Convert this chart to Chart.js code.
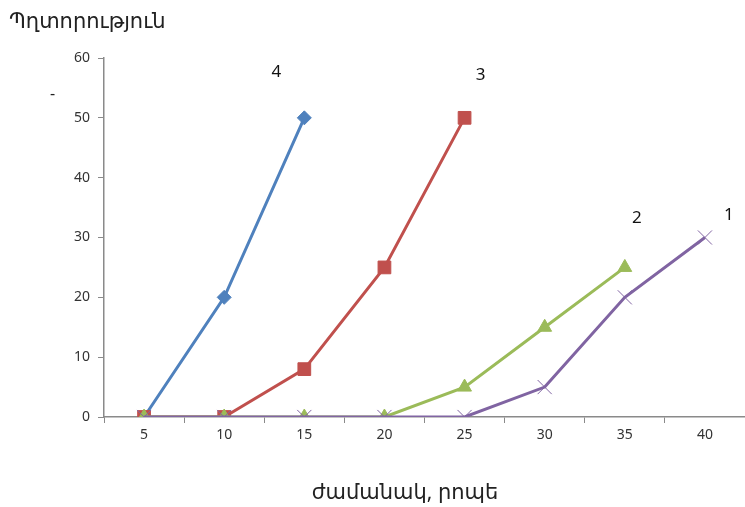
<!DOCTYPE html>
<html>
<head>
<meta charset="utf-8">
<script src="https://cdn.jsdelivr.net/npm/chart.js@4.4.0/dist/chart.umd.min.js"></script>
<style>
  body { margin: 0; background: #fff; }
  #wrap { width: 745px; height: 507px; }
</style>
</head>
<body>
<div id="wrap"><canvas id="myChart" width="745" height="507"></canvas></div>
<script>
// data
const minutes = ['5', '10', '15', '20', '25', '30', '35', '40'];
const curve4 = [0, 20, 50, null, null, null, null, null];
const curve3 = [0, 0, 8, 25, 50, null, null, null];
const curve2 = [0, 0, 0, 0, 5, 15, 25, null];
const curve1 = [0, 0, 0, 0, 0, 5, 20, 30];
const yTicks = [0, 10, 20, 30, 40, 50, 60];

// curve numbers placed next to line ends (category index, value)
const curveNames = ['4', '3', '2', '1'];
const nameIdx = [1.65, 4.2, 6.15, 7.3];
const nameVal = [57.7, 57.2, 33.3, 33.8];

const yTitle = 'Պղտորություն';
const xTitle = 'ժամանակ, րոպե';

const font = "'Noto Sans', 'DejaVu Sans', sans-serif";

// draws the curve numbers and the axis titles
const textPlugin = {
    id: 'texts',
    afterDraw(chart) {
        const c = chart.ctx;
        const xs = chart.scales.x;
        const ys = chart.scales.y;
        c.save();
        c.fillStyle = '#111';
        c.font = '17px ' + font;
        c.textAlign = 'center';
        c.textBaseline = 'middle';
        for (let i = 0; i < curveNames.length; i++) {
            const x0 = xs.getPixelForValue(Math.floor(nameIdx[i]));
            const x1 = xs.getPixelForValue(Math.floor(nameIdx[i]) + 1);
            const x = x0 + (x1 - x0) * (nameIdx[i] % 1);
            c.fillText(curveNames[i], x, ys.getPixelForValue(nameVal[i]));
        }
        c.fillStyle = '#222';
        c.font = '21px ' + font;
        c.textAlign = 'left';
        c.fillText(yTitle, 9, 22);
        c.font = '16px ' + font;
        c.fillText('-', 50, 94);
        c.font = '21px ' + font;
        c.textAlign = 'center';
        c.fillText(xTitle, 405, 493);
        c.restore();
    }
};

const makeSet = (label, data, color, style, radius, bw) => ({
    label: label,
    data: data,
    borderColor: color,
    backgroundColor: color,
    borderWidth: 3,
    pointStyle: style,
    pointRadius: radius,
    pointBorderWidth: bw,
    pointBorderColor: color,
    pointBackgroundColor: color,
    tension: 0,
    spanGaps: false
});

const ctx = document.getElementById('myChart');
const myChart = new Chart(ctx, {
    type: 'line',
    data: {
        labels: minutes,
        datasets: [
            makeSet('1', curve1, '#8064A2', 'crossRot', 10, 1),
            makeSet('2', curve2, '#9BBB59', 'triangle', 8, 1),
            makeSet('3', curve3, '#C0504D', 'rect', 9, 1),
            makeSet('4', curve4, '#4F81BD', 'rectRot', 7, 1)
        ]
    },
    options: {
        responsive: false,
        animation: false,
        layout: { autoPadding: false, padding: { top: 58, right: -3, left: 0, bottom: 0 } },
        plugins: {
            legend: { display: false },
            tooltip: { enabled: false }
        },
        scales: {
            x: {
                type: 'category',
                offset: true,
                grid: {
                    offset: true,
                    drawOnChartArea: false,
                    drawTicks: true,
                    tickLength: 6,
                    color: '#8a8a8a'
                },
                border: { color: '#8a8a8a', width: 1.5 },
                ticks: {
                    color: '#333',
                    font: { family: font, size: 14 },
                    padding: 4,
                    maxRotation: 0
                },
                afterFit(scale) {
                    scale.height = 90;
                    scale.paddingLeft = 0;
                    scale.paddingRight = 0;
                }
            },
            y: {
                min: 0,
                max: 60,
                afterBuildTicks(scale) { scale.ticks = yTicks.map(v => ({ value: v })); },
                grid: {
                    drawOnChartArea: false,
                    drawTicks: true,
                    tickLength: 6,
                    color: '#8a8a8a'
                },
                border: { color: '#8a8a8a', width: 1.5 },
                ticks: {
                    color: '#333',
                    font: { family: font, size: 14 },
                    padding: 8
                },
                afterFit(scale) { scale.width = 104; }
            }
        }
    },
    plugins: [textPlugin]
});
</script>
</body>
</html>
